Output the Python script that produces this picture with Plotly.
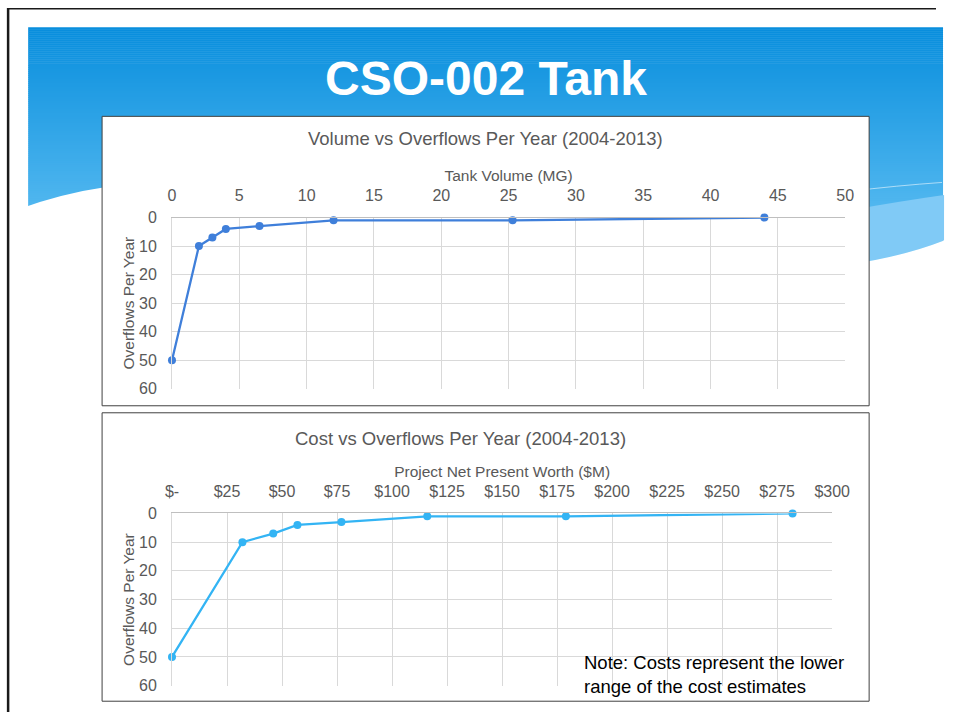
import plotly.graph_objects as go

# ---- data ----
tank_volume_mg = [0, 2, 3, 4, 6.5, 12, 25.3, 44]
overflows_volume = [50, 10, 7, 4, 3, 1, 1, 0]

npw_musd = [0, 32, 46, 57, 77, 116, 179, 282]
overflows_cost = [50, 10, 7, 4, 3, 1, 1, 0]

volume_ticks = [0, 5, 10, 15, 20, 25, 30, 35, 40, 45, 50]
cost_tickvals = [0, 25, 50, 75, 100, 125, 150, 175, 200, 225, 250, 275, 300]
cost_ticktext = ["$-", "$25", "$50", "$75", "$100", "$125", "$150", "$175",
                 "$200", "$225", "$250", "$275", "$300"]
overflow_ticks = [0, 10, 20, 30, 40, 50, 60]

W, H = 954, 721
# slide layout is laid out in slide pixels; the figure is placed inside the
# page body margin and shown slightly reduced, so convert slide px -> paper
OFF, SCALE = 8, 0.975
FONT = "Liberation Sans, Arial, sans-serif"
GREY = "#595959"
GRID = "#d9d9d9"


def px(x):
    return (x / SCALE - OFF) / W


def py(y):
    return 1 - (y / SCALE - OFF) / H


def path(points, close=True):
    """Build an SVG path in paper units from slide-pixel (x, y) pairs / commands."""
    out = []
    for item in points:
        if isinstance(item, str):
            out.append(item)
        else:
            out.append(f"{px(item[0]):.5f},{py(item[1]):.5f}")
    s = " ".join(out)
    return s + (" Z" if close else "")


shapes = []

# slide banner: vertical blue gradient
top, bottom = 27, 266
c0, c1 = (8, 142, 221), (104, 196, 245)
n = 120
for i in range(n):
    t = i / (n - 1)
    col = tuple(round(c0[k] + (c1[k] - c0[k]) * t) for k in range(3))
    y0 = top + (bottom - top) * i / n
    y1 = top + (bottom - top) * (i + 1) / n + 0.6
    shapes.append(dict(type="rect", xref="paper", yref="paper", layer="below",
                       x0=px(29), x1=px(945), y0=py(y0), y1=py(min(y1, bottom)),
                       line=dict(width=0), fillcolor=f"rgb{col}"))

# white swoosh on the left
shapes.append(dict(type="path", xref="paper", yref="paper", layer="below",
                   path=path(["M", (20, 208.5), "Q", (62, 193), (110, 186),
                              "L", (300, 180), "L", (300, 300), "L", (20, 300)]),
                   fillcolor="white", line=dict(width=0)))
# lighter band on the right
shapes.append(dict(type="path", xref="paper", yref="paper", layer="below",
                   path=path(["M", (850, 210), "Q", (900, 201), (946, 194.5),
                              "L", (946, 240), "Q", (905, 256), (850, 264)]),
                   fillcolor="rgb(128,202,246)", line=dict(width=0)))
# white area below the right band
shapes.append(dict(type="path", xref="paper", yref="paper", layer="below",
                   path=path(["M", (850, 264), "Q", (905, 256), (946, 240),
                              "L", (990, 240), "L", (990, 300), "L", (850, 300)]),
                   fillcolor="white", line=dict(width=0)))
# faint highlight line
shapes.append(dict(type="path", xref="paper", yref="paper", layer="below",
                   path=path(["M", (850, 191), "Q", (900, 185), (944, 182)], close=False),
                   line=dict(color="rgba(255,255,255,0.55)", width=1)))

# slide frame (left and top edges)
shapes.append(dict(type="line", xref="paper", yref="paper", layer="below",
                   x0=0.0012, x1=0.0012, y0=0, y1=1,
                   line=dict(color="#1a1a1a", width=2.5)))
shapes.append(dict(type="line", xref="paper", yref="paper", layer="below",
                   x0=0, x1=1, y0=0.9988, y1=0.9988,
                   line=dict(color="#1a1a1a", width=1.5)))

# chart boxes
for (x0, y0, x1, y1) in [(103, 116, 871, 405), (103, 412, 871, 700)]:
    shapes.append(dict(type="rect", xref="paper", yref="paper", layer="below",
                       x0=px(x0), x1=px(x1), y0=py(y0), y1=py(y1),
                       fillcolor="white", line=dict(color="#404040", width=1)))

fig = go.Figure()

fig.add_trace(go.Scatter(
    x=tank_volume_mg, y=overflows_volume, mode="lines+markers",
    line=dict(color="#3f7fda", width=2.3),
    marker=dict(color="#3f7fda", size=8),
    cliponaxis=False,
    xaxis="x", yaxis="y", showlegend=False, hoverinfo="x+y"))

fig.add_trace(go.Scatter(
    x=npw_musd, y=overflows_cost, mode="lines+markers",
    line=dict(color="#33b4f4", width=2.3),
    marker=dict(color="#33b4f4", size=8),
    cliponaxis=False,
    xaxis="x2", yaxis="y2", showlegend=False, hoverinfo="x+y"))

tickfont = dict(family=FONT, size=16, color=GREY)
titlefont = dict(family=FONT, size=15.5, color=GREY)

common_x = dict(side="top", showgrid=True, gridcolor=GRID, gridwidth=1,
                showline=True, linecolor="#bfbfbf", linewidth=1,
                zeroline=False, ticks="", tickfont=tickfont, fixedrange=True,
                ticklabelstandoff=9)
common_y = dict(showgrid=True, gridcolor=GRID, gridwidth=1,
                showline=True, linecolor=GRID, linewidth=1, mirror=False,
                zeroline=False, ticks="", tickfont=tickfont,
                range=[60, 0], tickvals=overflow_ticks, fixedrange=True,
                ticklabelstandoff=11)

fig.update_layout(
    width=W, height=H,
    margin=dict(l=0, r=0, t=0, b=0),
    paper_bgcolor="white", plot_bgcolor="rgba(0,0,0,0)",
    font=dict(family=FONT),
    shapes=shapes,
    xaxis=dict(common_x, domain=[px(173), px(847)], anchor="y",
               range=[0, 50], tickvals=volume_ticks,
               title=dict(text="Tank Volume (MG)", font=titlefont, standoff=1)),
    yaxis=dict(common_y, domain=[py(388), py(217)], anchor="x",
               title=dict(text="Overflows Per Year", font=titlefont, standoff=0)),
    xaxis2=dict(common_x, domain=[px(173), px(834)], anchor="y2",
                range=[0, 300], tickvals=cost_tickvals, ticktext=cost_ticktext,
                title=dict(text="Project Net Present Worth ($M)", font=titlefont, standoff=1)),
    yaxis2=dict(common_y, domain=[py(684.5), py(512.5)], anchor="x2",
                title=dict(text="Overflows Per Year", font=titlefont, standoff=0)),
    annotations=[
        dict(text="<b>CSO-002 Tank</b>", xref="paper", yref="paper",
             x=px(487.5), y=py(78), xanchor="center", yanchor="middle",
             showarrow=False, font=dict(family=FONT, size=48, color="white")),
        dict(text="Volume vs Overflows Per Year (2004-2013)", xref="paper", yref="paper",
             x=px(487), y=py(138), xanchor="center", yanchor="middle",
             showarrow=False, font=dict(family=FONT, size=18.5, color=GREY)),
        dict(text="Cost vs Overflows Per Year (2004-2013)", xref="paper", yref="paper",
             x=px(462), y=py(438), xanchor="center", yanchor="middle",
             showarrow=False, font=dict(family=FONT, size=18.5, color=GREY)),
        dict(text="Note: Costs represent the lower<br>range of the cost estimates",
             xref="paper", yref="paper", x=px(584), y=py(673.5),
             xanchor="left", yanchor="middle", align="left",
             showarrow=False, font=dict(family=FONT, size=18.5, color="black")),
    ],
)

fig.write_html("out.html")
